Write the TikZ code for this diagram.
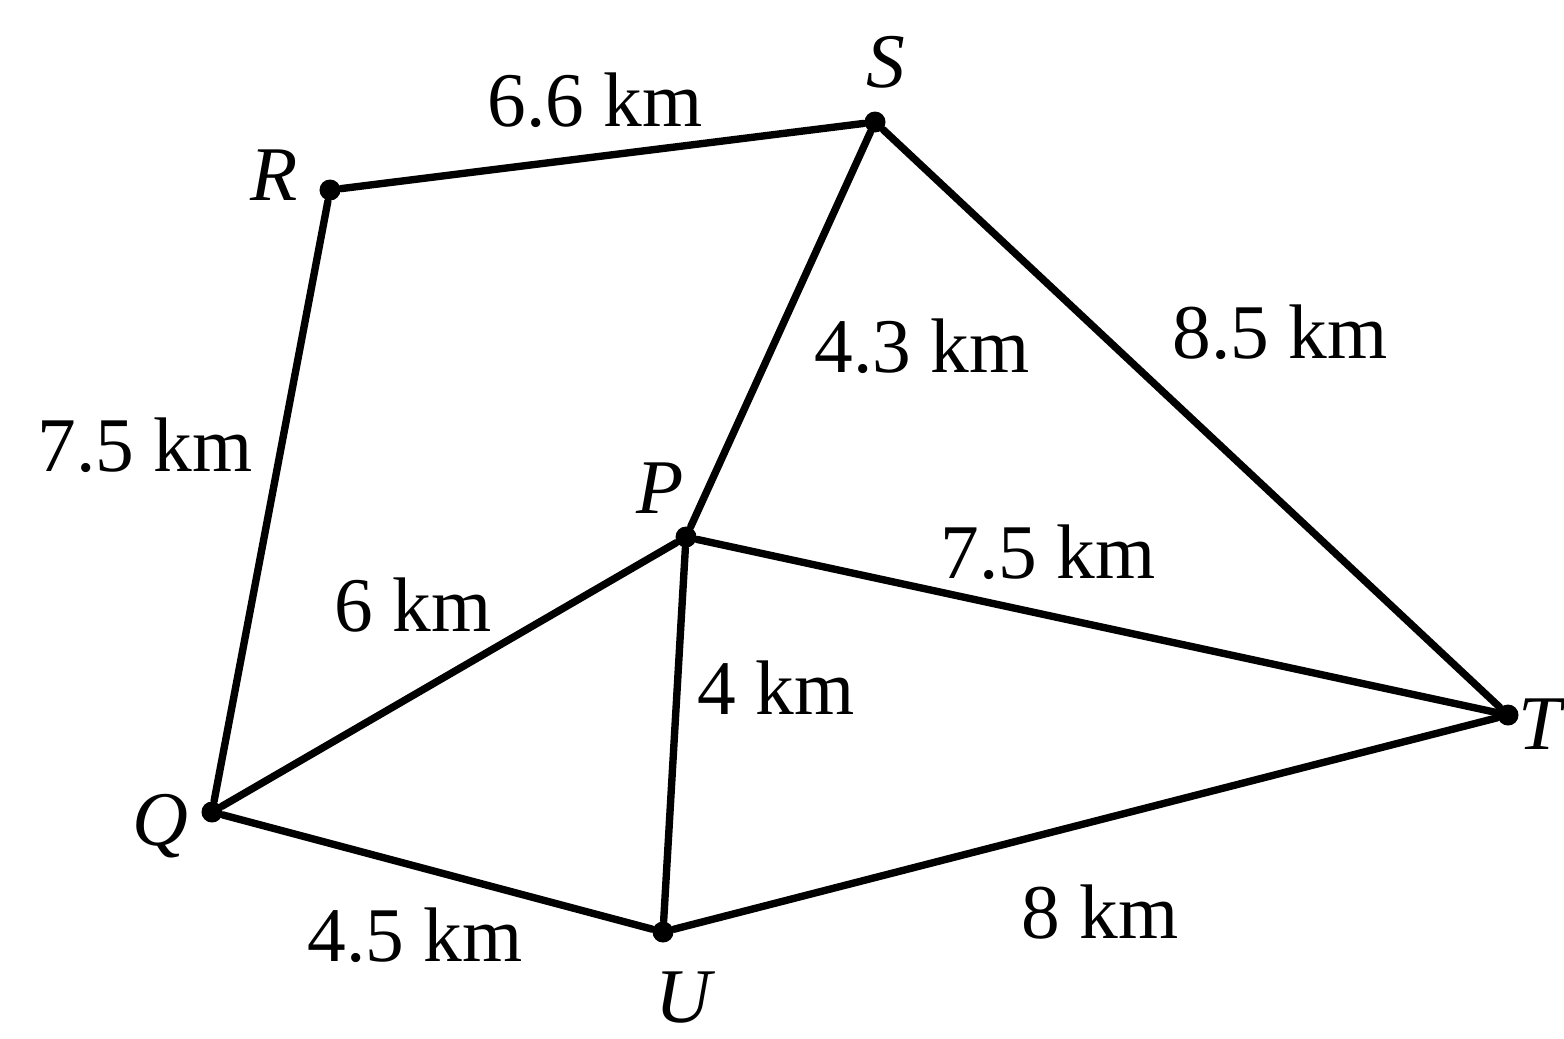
\documentclass[tikz,border=0pt]{standalone}
\usepackage{fontspec}
\setmainfont{Liberation Serif}
\begin{document}
\begin{tikzpicture}[x=0.01cm,y=-0.01cm,
  edge/.style={line width=2.1pt,line cap=round,line join=round},
  vtx/.style={circle,fill=black,inner sep=0pt,minimum size=0.21cm},
  vlab/.style={font=\fontsize{22}{26}\selectfont\itshape,inner sep=0pt},
  dlab/.style={font=\fontsize{22}{26}\selectfont,inner sep=0pt}]
\useasboundingbox (0,0) rectangle (1564,1038);
\node[vtx] (R) at (330,190) {};
\node[vtx] (S) at (875,122) {};
\node[vtx] (P) at (686,537) {};
\node[vtx] (Q) at (212,812) {};
\node[vtx] (U) at (663,932) {};
\node[vtx] (T) at (1508,715) {};
\draw[edge] (R) -- (S);
\draw[edge] (R) -- (Q);
\draw[edge] (S) -- (P);
\draw[edge] (S) -- (T);
\draw[edge] (P) -- (T);
\draw[edge] (P) -- (Q);
\draw[edge] (P) -- (U);
\draw[edge] (Q) -- (U);
\draw[edge] (U) -- (T);
\node[vlab] (lS) at (886,62) {S};
\node[vlab] (lR) at (274,175) {R};
\node[vlab] (lP) at (660,488) {P};
\node[vlab] (lQ) at (160,826) {Q};
\node[vlab] (lU) at (683,998) {U};
\node[vlab,anchor=east] (lT) at (1562,724) {T};
\node[dlab] (d1) at (595,100) {6.6 km};
\node[dlab] (d2) at (1280,332) {8.5 km};
\node[dlab] (d3) at (922,346) {4.3 km};
\node[dlab] (d4) at (145,445) {7.5 km};
\node[dlab] (d5) at (1048,552) {7.5 km};
\node[dlab] (d6) at (413,605) {6 km};
\node[dlab] (d7) at (776,688) {4 km};
\node[dlab] (d8) at (415,935) {4.5 km};
\node[dlab] (d9) at (1100,912) {8 km};
\end{tikzpicture}
\end{document}
